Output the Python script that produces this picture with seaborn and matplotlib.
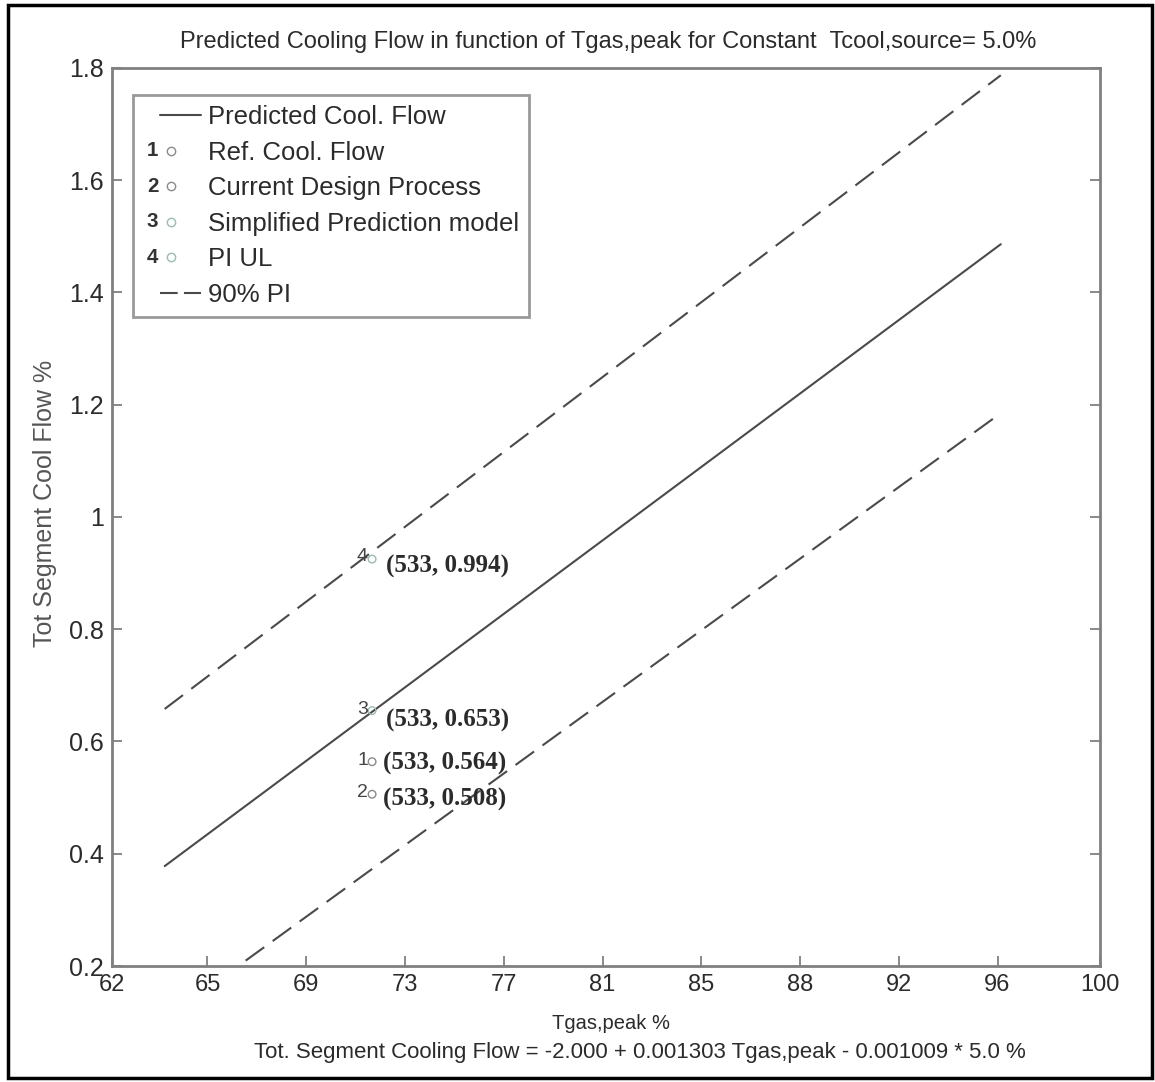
import numpy as np
import pandas as pd
import matplotlib
matplotlib.use("Agg")
import matplotlib.pyplot as plt
import seaborn as sns
from matplotlib.lines import Line2D
from matplotlib.text import Text
from matplotlib.patches import Rectangle
from matplotlib.legend_handler import HandlerBase

# ---------------- data ----------------
tgas_line = [470, 724]
pred_flow = [0.378, 1.486]
pi_upper = [0.658, 1.787]
pi_lower = [0.105, 1.185]

point_ids = ["1", "2", "3", "4"]
point_x = [533, 533, 533, 533]
point_y = [0.564, 0.506, 0.655, 0.925]
point_label_vals = ["0.564", "0.508", "0.653", "0.994"]
point_names = ["Ref. Cool. Flow", "Current Design Process",
               "Simplified Prediction model", "PI UL"]

xtick_pos = [454, 483, 513, 543, 573, 603, 633, 663, 693, 723, 754]
xtick_labels = ["62", "65", "69", "73", "77", "81", "85", "88", "92", "96", "100"]
ytick_pos = [0.2, 0.4, 0.6, 0.8, 1.0, 1.2, 1.4, 1.6, 1.8]
ytick_labels = ["0.2", "0.4", "0.6", "0.8", "1", "1.2", "1.4", "1.6", "1.8"]

# ---------------- style ----------------
sns.set_theme(style="white")
plt.rcParams["font.family"] = ["Liberation Sans", "DejaVu Sans"]
SERIF = ["Liberation Serif", "DejaVu Serif"]

line_col = "#4a4a4a"
spine_col = "#808080"
text_col = "#2b2b2b"
marker_cols = ["#8a8a8a", "#8a8a8a", "#9cbcae", "#9cbcae"]
DASH = (0, (11, 5))

fig = plt.figure(figsize=(11.55, 10.82), dpi=100)
ax = fig.add_axes([0.097, 0.1072, 0.855, 0.830])

df_line = pd.DataFrame({"x": tgas_line, "pred": pred_flow,
                        "up": pi_upper, "lo": pi_lower})
sns.lineplot(data=df_line, x="x", y="pred", ax=ax, color=line_col, lw=1.5,
             legend=False)
sns.lineplot(data=df_line, x="x", y="up", ax=ax, color=line_col, lw=1.5,
             linestyle=DASH, legend=False)
sns.lineplot(data=df_line, x="x", y="lo", ax=ax, color=line_col, lw=1.5,
             linestyle=DASH, legend=False)

df_pts = pd.DataFrame({"x": point_x, "y": point_y, "id": point_ids})
for i, row in df_pts.iterrows():
    sns.scatterplot(x=[row.x], y=[row.y], ax=ax, marker="o", s=30,
                    facecolor="none", edgecolor=marker_cols[i], linewidth=1.0,
                    legend=False, zorder=3)
    ax.annotate(row.id, (row.x, row.y), xytext=(-3, 1 if i != 3 else 2),
                textcoords="offset points", ha="right", va="center",
                fontsize=14, color="#444444")

label_offsets = [(8, -1), (8, -4), (10, -7), (10, -5)]
for i in range(len(point_ids)):
    ax.annotate(f"({point_x[i]}, {point_label_vals[i]})",
                (point_x[i], point_y[i]), xytext=label_offsets[i],
                textcoords="offset points", ha="left", va="center",
                fontsize=18, fontweight="bold", family=SERIF, color=text_col)

ax.set_xlim(454, 754)
ax.set_ylim(0.2, 1.8)
ax.set_xticks(xtick_pos)
ax.set_xticklabels(xtick_labels)
ax.set_yticks(ytick_pos)
ax.set_yticklabels(ytick_labels)
ax.set_xlabel("")
ax.set_ylabel("")
ax.tick_params(axis="both", direction="in", length=7, width=1.3,
               color=spine_col, labelcolor=text_col, pad=6)
ax.tick_params(axis="y", right=True, left=True, labelsize=18)
ax.tick_params(axis="x", bottom=True, top=False, labelsize=17)
for s in ax.spines.values():
    s.set_color(spine_col)
    s.set_linewidth(2)


# ---------------- legend ----------------
class NumMarkerHandler(HandlerBase):
    def __init__(self, num, color):
        super().__init__()
        self.num = num
        self.color = color

    def create_artists(self, legend, orig_handle, xdescent, ydescent,
                       width, height, fontsize, trans):
        cy = height / 2 - ydescent
        t = Text(width * 0.16 - xdescent, cy, self.num, ha="center",
                 va="center", fontsize=fontsize * 0.8, color="#333333",
                 fontweight="bold", transform=trans)
        m = Line2D([width * 0.48 - xdescent], [cy], marker="o", ls="none",
                   mfc="none", mec=self.color, ms=6, mew=1.0, transform=trans)
        return [t, m]


class PartLineHandler(HandlerBase):
    def create_artists(self, legend, orig_handle, xdescent, ydescent,
                       width, height, fontsize, trans):
        cy = height / 2 - ydescent
        ln = Line2D([width * 0.28 - xdescent, width - xdescent], [cy, cy])
        ln.update_from(orig_handle)
        ln.set_transform(trans)
        return [ln]


h_pred = Line2D([], [], color=line_col, lw=1.5)
h_pi = Line2D([], [], color=line_col, lw=1.5, linestyle=(0, (8.5, 3)))
h_pts = [Line2D([], [], ls="none", marker="o") for _ in point_ids]
handles = [h_pred] + h_pts + [h_pi]
labels = ["Predicted Cool. Flow"] + point_names + ["90% PI"]
hmap = {h: NumMarkerHandler(n, c) for h, n, c in zip(h_pts, point_ids, marker_cols)}
hmap[h_pred] = PartLineHandler()
hmap[h_pi] = PartLineHandler()
leg = ax.legend(handles, labels, handler_map=hmap, loc="upper left",
                bbox_to_anchor=(0.0213, 0.970), borderaxespad=0,
                fontsize=18.5, frameon=True, fancybox=False, shadow=False,
                handlelength=2.25, handletextpad=0.25, labelspacing=0.45,
                borderpad=0.4)
leg.get_frame().set_edgecolor(spine_col)
leg.get_frame().set_linewidth(2)
for t in leg.get_texts():
    t.set_color(text_col)

# ---------------- texts ----------------
fig.text(0.527, 0.961,
         "Predicted Cooling Flow in function of Tgas,peak for Constant  Tcool,source= 5.0%",
         ha="center", va="center", fontsize=17, color=text_col)
fig.text(0.529, 0.0545, "Tgas,peak %", ha="center", va="center",
         fontsize=14.5, color=text_col)
fig.text(0.554, 0.0277,
         "Tot. Segment Cooling Flow = -2.000 + 0.001303 Tgas,peak - 0.001009 * 5.0 %",
         ha="center", va="center", fontsize=16, color=text_col)
fig.text(0.039, 0.535, "Tot Segment Cool Flow %", ha="center", va="center",
         rotation=90, fontsize=18, color="#555555")

fig.patches.append(Rectangle((0.007, 0.004), 0.990, 0.991,
                             transform=fig.transFigure, fill=False,
                             edgecolor="black", lw=2.5))

fig.savefig("out.png", dpi=100, facecolor="white")
